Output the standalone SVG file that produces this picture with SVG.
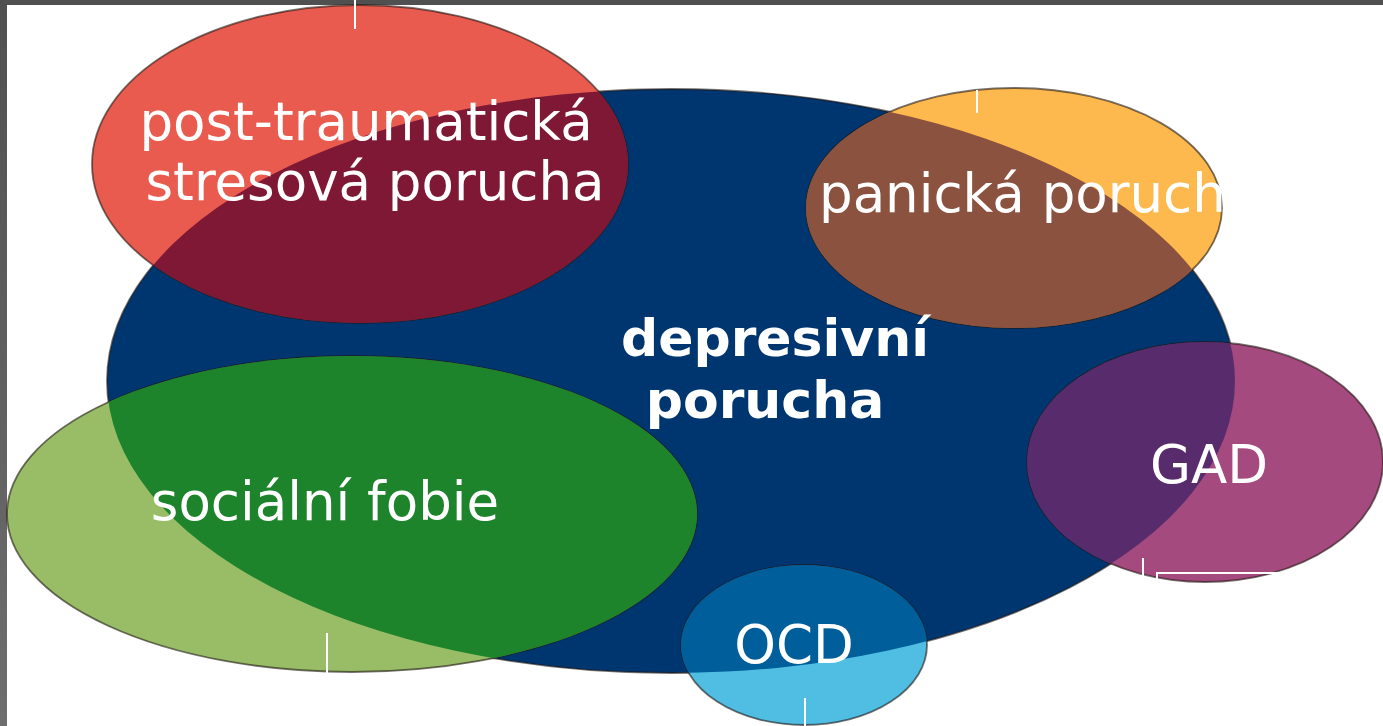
<svg xmlns="http://www.w3.org/2000/svg" width="1383" height="726" viewBox="0 0 1383 726">
<defs>
<linearGradient id="lbar" x1="0" y1="0" x2="0" y2="1"><stop offset="0" stop-color="#505050"/><stop offset="1" stop-color="#6e6e6e"/></linearGradient>
<clipPath id="blueClip"><ellipse cx="671" cy="381" rx="564" ry="292"/></clipPath>
<style>
.edge{stroke:#1e1610;stroke-opacity:0.6;stroke-width:1.8}
.lbl{font-family:"DejaVu Sans",Verdana,sans-serif;font-size:53px;fill:#ffffff}
.bold{font-weight:bold;font-size:52px}
.tick{stroke:#ffffff;stroke-width:2}
</style>
</defs>
<rect width="1383" height="726" fill="#ffffff"/>
<rect x="0" y="0" width="1383" height="5" fill="#505050"/>
<rect x="0" y="0" width="7" height="726" fill="url(#lbar)"/>

<g id="depresivni">
<ellipse cx="671" cy="381" rx="564" ry="292" fill="#003670" class="edge"/>
</g>

<g id="ptsd">
<ellipse cx="360" cy="164" rx="268" ry="159" fill="#E85B4E" class="edge"/>
<ellipse cx="360" cy="164" rx="268" ry="159" fill="#7F1834" clip-path="url(#blueClip)"/>
</g>

<g id="panicka">
<ellipse cx="1014" cy="208" rx="208" ry="120" fill="#FDB94D" class="edge"/>
<ellipse cx="1014" cy="208" rx="208" ry="120" fill="#8B5240" clip-path="url(#blueClip)"/>
</g>

<g id="socialni">
<ellipse cx="352" cy="514" rx="345" ry="158" fill="#98BD66" class="edge"/>
<ellipse cx="352" cy="514" rx="345" ry="158" fill="#1E842B" clip-path="url(#blueClip)"/>
</g>

<g id="gad">
<ellipse cx="1205" cy="462" rx="178" ry="120" fill="#A54A7E" class="edge"/>
<ellipse cx="1205" cy="462" rx="178" ry="120" fill="#582C6C" clip-path="url(#blueClip)"/>
</g>

<g id="ocd">
<ellipse cx="804" cy="645" rx="123" ry="80" fill="#50BEE2" class="edge"/>
<ellipse cx="804" cy="645" rx="123" ry="80" fill="#005E9A" clip-path="url(#blueClip)"/>
</g>

<g id="labels">
<text class="lbl" x="366" y="140" text-anchor="middle">post-traumatická</text>
<text class="lbl" x="375" y="200" text-anchor="middle">stresová porucha</text>
<text class="lbl" x="819" y="212">panická poruch</text>
<text class="lbl bold" x="775" y="356" text-anchor="middle">depresivní</text>
<text class="lbl bold" x="765" y="418" text-anchor="middle">porucha</text>
<text class="lbl" x="325" y="520" text-anchor="middle">sociální fobie</text>
<text class="lbl" x="1209" y="483" text-anchor="middle">GAD</text>
<text class="lbl" x="794" y="663" text-anchor="middle">OCD</text>
</g>

<g id="connectors">
<line class="tick" x1="355" y1="0" x2="355" y2="29"/>
<line class="tick" x1="977" y1="90" x2="977" y2="113"/>
<line class="tick" x1="1143" y1="558" x2="1143" y2="580"/>
<polyline class="tick" fill="none" points="1157,582 1157,573 1283,573"/>
<line class="tick" x1="327" y1="633" x2="327" y2="673"/>
<line class="tick" x1="805" y1="698" x2="805" y2="726"/>
</g>
</svg>
